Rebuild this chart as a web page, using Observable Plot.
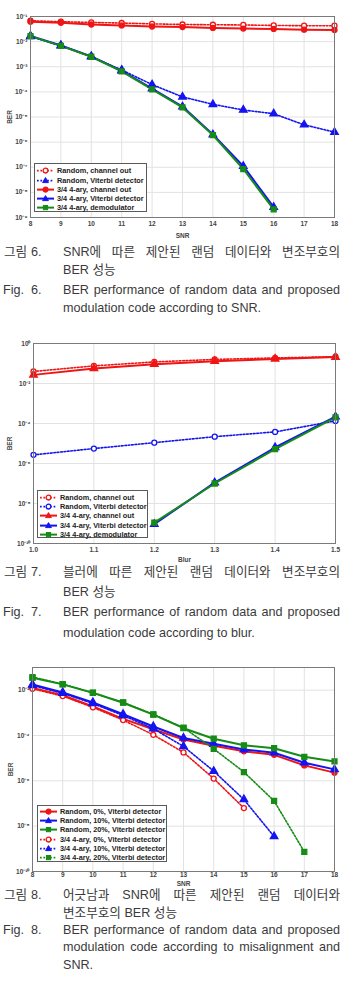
<!DOCTYPE html>
<html><head><meta charset="utf-8">
<script src="https://cdn.jsdelivr.net/npm/d3@7"></script>
<script src="https://cdn.jsdelivr.net/npm/@observablehq/plot@0.6"></script>
<style>
html,body{margin:0;padding:0;background:#fff}
body{width:343px;height:996px;position:relative;overflow:hidden;font-family:"Liberation Sans",Arial,sans-serif}
.chart{position:absolute;left:0}
.legend{position:absolute;border:1px solid #5a5a5a;background:#fff;box-sizing:border-box}
.lrow{position:absolute;left:0;height:9.2px;width:100%}
.lrow svg{position:absolute;left:1px;top:0}
.lrow span{position:absolute;left:22px;top:0;line-height:9.2px;font:bold 7.3px "Liberation Sans",Arial,sans-serif;color:#222;white-space:nowrap}
.cl{position:absolute;height:13px;line-height:13px;font-family:"Liberation Sans","Noto Sans CJK KR",sans-serif;font-size:12.6px;color:#3a3a3a;white-space:nowrap}
.jt{width:277px;left:63px;text-align:justify;text-align-last:justify}
.lt{left:63px}
</style>
</head><body>
<script>
// ---------- Fig. 6 data (BER vs SNR) ----------
const snr = [8, 9, 10, 11, 12, 13, 14, 15, 16, 17, 18];
const snrCode6 = [8, 9, 10, 11, 12, 13, 14, 15, 16];
const f6RandomChannel = [6.8e-2, 6.2e-2, 5.8e-2, 5.5e-2, 5.1e-2, 4.8e-2, 4.7e-2, 4.6e-2, 4.4e-2, 4.3e-2, 4.3e-2];
const f6RandomViterbi = [1.6e-2, 6.9e-3, 2.5e-3, 7.4e-4, 1.95e-4, 6.3e-5, 3.2e-5, 1.9e-5, 1.35e-5, 4.9e-6, 2.5e-6];
const f6CodeChannel = [6.2e-2, 5.6e-2, 4.8e-2, 4.4e-2, 4.0e-2, 3.8e-2, 3.5e-2, 3.3e-2, 3.2e-2, 3.0e-2, 2.9e-2];
const f6CodeViterbi = [1.7e-2, 7.0e-3, 2.6e-3, 6.9e-4, 1.35e-4, 2.6e-5, 2.0e-6, 1.1e-7, 2.6e-9];
const f6CodeDemod = [1.65e-2, 6.8e-3, 2.5e-3, 6.6e-4, 1.25e-4, 2.4e-5, 1.9e-6, 8.5e-8, 2.1e-9];

// ---------- Fig. 7 data (BER vs blur) ----------
const blur = [1.0, 1.1, 1.2, 1.3, 1.4, 1.5];
const blurCode = [1.2, 1.3, 1.4, 1.5];
const f7RandomChannel = [0.04, 0.076, 0.12, 0.16, 0.19, 0.22];
const f7RandomViterbi = [2.7e-6, 5.6e-6, 1.1e-5, 2.2e-5, 3.8e-5, 1.35e-4];
const f7CodeChannel = [0.027, 0.056, 0.093, 0.13, 0.17, 0.21];
const f7CodeViterbi = [9.3e-10, 1.1e-7, 6.3e-6, 2.2e-4];
const f7CodeDemod = [1.1e-9, 1.0e-7, 5.2e-6, 2.0e-4];

// ---------- Fig. 8 data (BER vs SNR, misalignment) ----------
const snr8Code0 = [8, 9, 10, 11, 12, 13, 14, 15];
const snr8Code10 = [8, 9, 10, 11, 12, 13, 14, 15, 16];
const snr8Code20 = [8, 9, 10, 11, 12, 13, 14, 15, 16, 17];
const f8Random0 = [1.26e-2, 6.0e-3, 1.9e-3, 5.4e-4, 1.9e-4, 6.6e-5, 3.5e-5, 2.0e-5, 1.4e-5, 4.8e-6, 2.3e-6];
const f8Random10 = [1.78e-2, 7.9e-3, 2.9e-3, 8.7e-4, 2.5e-4, 7.8e-5, 4.3e-5, 2.4e-5, 1.74e-5, 6.3e-6, 3.2e-6];
const f8Random20 = [3.5e-2, 1.8e-2, 7.6e-3, 2.8e-3, 8.3e-4, 2.1e-4, 7.2e-5, 3.7e-5, 2.75e-5, 1.15e-5, 7.2e-6];
const f8Code0 = [1.15e-2, 5.5e-3, 1.75e-3, 4.8e-4, 1.07e-4, 1.8e-5, 1.26e-6, 6.3e-8];
const f8Code10 = [1.6e-2, 7.3e-3, 2.6e-3, 7.6e-4, 2.0e-4, 3.3e-5, 2.7e-6, 1.5e-7, 3.5e-9];
const f8Code20 = [3.8e-2, 1.85e-2, 7.8e-3, 2.9e-3, 8.6e-4, 2.2e-4, 2.6e-5, 2.45e-6, 1.3e-7, 7.4e-10];

// ---------- tick values ----------
const snrTicks = [8, 9, 10, 11, 12, 13, 14, 15, 16, 17, 18];
const blurTicks = [1.0, 1.1, 1.2, 1.3, 1.4, 1.5];
const f6YTicks = [1e-1, 1e-2, 1e-3, 1e-4, 1e-5, 1e-6, 1e-7, 1e-8, 1e-9];
const f7YTicks = [1e0, 1e-2, 1e-4, 1e-6, 1e-8, 1e-10];
const f8YTicks = [1e-2, 1e-4, 1e-6, 1e-8, 1e-10];

const RED = "#f01414", BLUE = "#1414f0", GREEN = "#168c16";

function sup(d) {
  const e = Math.round(Math.log10(d));
  const m = {"-": "⁻", "0": "⁰", "1": "¹", "2": "²", "3": "³", "4": "⁴", "5": "⁵", "6": "⁶", "7": "⁷", "8": "⁸", "9": "⁹"};
  return "10" + String(e).split("").map(c => m[c]).join("");
}

function draw(cfg) {
  const marks = [
    Plot.gridX({ticks: cfg.xTicks, stroke: "#e2e2e2", strokeOpacity: 1}),
    Plot.gridY({ticks: cfg.yTicks, stroke: "#e2e2e2", strokeOpacity: 1})
  ];
  const rowsOf = s => s.x.map((x, i) => ({x, y: s.y[i]}));
  for (const s of cfg.series) {
    const o = {x: "x", y: "y", stroke: s.color, strokeWidth: s.dash ? 1.6 : 2};
    if (s.dash) o.strokeDasharray = "1.7,1.7";
    marks.push(Plot.line(rowsOf(s), o));
  }
  for (const s of cfg.series) {
    marks.push(Plot.dot(rowsOf(s), {
      x: "x", y: "y", symbol: s.symbol, r: s.symbol === "circle" ? 2.5 : 2.8,
      stroke: s.color, strokeWidth: 1.3, fill: s.open ? "white" : s.color
    }));
  }
  marks.push(Plot.frame({stroke: "#7a7a7a"}));
  marks.push(Plot.axisX({ticks: cfg.xTicks, tickFormat: cfg.xFmt, tickSize: 0, tickPadding: cfg.xPad,
    label: cfg.xLabel, labelAnchor: "center", labelArrow: "none", labelOffset: cfg.xLabelOffset,
    fontWeight: "bold", fill: "#444"}));
  marks.push(Plot.axisY({ticks: cfg.yTicks, tickFormat: sup, tickSize: 0, tickPadding: 3,
    label: "BER", labelAnchor: "center", labelArrow: "none", labelOffset: cfg.yLabelOffset,
    fontWeight: "bold", fill: "#444"}));
  const svg = Plot.plot({
    width: 343, height: cfg.height,
    marginTop: cfg.mt, marginBottom: cfg.mb, marginLeft: cfg.ml, marginRight: cfg.mr,
    x: {domain: cfg.xDomain},
    y: {type: "log", domain: cfg.yDomain},
    style: {fontFamily: "'Liberation Sans', Arial, sans-serif", fontSize: "6.5px", background: "transparent", overflow: "visible"},
    marks
  });
  svg.classList.add("chart");
  svg.style.top = cfg.top + "px";
  document.body.appendChild(svg);
}

function legend(left, top, width, height, padTop, items) {
  const div = document.createElement("div");
  div.className = "legend";
  Object.assign(div.style, {left: left + "px", top: top + "px", width: width + "px", height: height + "px"});
  items.forEach((it, i) => {
    const row = document.createElement("div");
    row.className = "lrow";
    row.style.top = (padTop + i * 9.2) + "px";
    const dash = it.dash ? ' stroke-dasharray="1.7,1.7"' : "";
    let mk;
    const c = it.color, f = it.open ? "white" : c;
    if (it.symbol === "circle") mk = `<circle cx="9.5" cy="4.6" r="2.4" stroke="${c}" stroke-width="1.3" fill="${f}"/>`;
    else if (it.symbol === "triangle") mk = `<path d="M9.5,1.6L12.4,6.6L6.6,6.6Z" stroke="${c}" stroke-width="1" fill="${f}"/>`;
    else mk = `<rect x="7.4" y="2.5" width="4.2" height="4.2" stroke="${c}" stroke-width="1" fill="${f}"/>`;
    row.innerHTML = `<svg width="19" height="9.2"><line x1="1" x2="18" y1="4.6" y2="4.6" stroke="${c}" stroke-width="${it.dash ? 1.6 : 2}"${dash}/>${mk}</svg><span>${it.label}</span>`;
    div.appendChild(row);
  });
  document.body.appendChild(div);
}

function line(text, cls, left, center) {
  const d = document.createElement("div");
  d.className = "cl " + (cls || "");
  if (left != null) d.style.left = left + "px";
  d.style.top = (center - 6.5) + "px";
  d.textContent = text;
  document.body.appendChild(d);
}

// ---------- Fig 6 ----------
const s6 = [
  {x: snr, y: f6RandomChannel, color: RED, dash: true, symbol: "circle", open: true, label: "Random, channel out"},
  {x: snr, y: f6RandomViterbi, color: BLUE, dash: true, symbol: "triangle", label: "Random, Viterbi detector"},
  {x: snr, y: f6CodeChannel, color: RED, symbol: "circle", label: "3/4 4-ary, channel out"},
  {x: snrCode6, y: f6CodeViterbi, color: BLUE, symbol: "triangle", label: "3/4 4-ary, Viterbi detector"},
  {x: snrCode6, y: f6CodeDemod, color: GREEN, symbol: "square", label: "3/4 4-ary, demodulator"}
];
draw({top: 0, height: 240, mt: 16, mb: 23, ml: 30, mr: 9, xDomain: [8, 18], xTicks: snrTicks, xFmt: d => String(d),
  xPad: 3.5, xLabel: "SNR", xLabelOffset: 20.5, yLabelOffset: 23, yDomain: [1e-9, 1e-1], yTicks: f6YTicks, series: s6});
legend(34, 163, 113, 49, 2.4, s6);

// ---------- Fig 7 ----------
const s7 = [
  {x: blur, y: f7RandomChannel, color: RED, dash: true, symbol: "circle", open: true, label: "Random, channel out"},
  {x: blur, y: f7RandomViterbi, color: BLUE, dash: true, symbol: "circle", open: true, label: "Random, Viterbi detector"},
  {x: blur, y: f7CodeChannel, color: RED, symbol: "triangle", label: "3/4 4-ary, channel out"},
  {x: blurCode, y: f7CodeViterbi, color: BLUE, symbol: "triangle", label: "3/4 4-ary, Viterbi detector"},
  {x: blurCode, y: f7CodeDemod, color: GREEN, symbol: "square", label: "3/4 4-ary, demodulator"}
];
draw({top: 330, height: 235, mt: 13, mb: 22, ml: 33, mr: 8, xDomain: [1.0, 1.5], xTicks: blurTicks, xFmt: d3.format(".1f"),
  xPad: 3.5, xLabel: "Blur", xLabelOffset: 18.5, yLabelOffset: 26, yDomain: [1e-10, 1], yTicks: f7YTicks, series: s7});
legend(37, 490, 111, 48, 2, s7);

// ---------- Fig 8 ----------
const s8 = [
  {x: snr, y: f8Random0, color: RED, symbol: "circle", label: "Random, 0%, Viterbi detector"},
  {x: snr, y: f8Random10, color: BLUE, symbol: "triangle", label: "Random, 10%, Viterbi detector"},
  {x: snr, y: f8Random20, color: GREEN, symbol: "square", label: "Random, 20%, Viterbi detector"},
  {x: snr8Code0, y: f8Code0, color: RED, dash: true, symbol: "circle", open: true, label: "3/4 4-ary, 0%, Viterbi detector"},
  {x: snr8Code10, y: f8Code10, color: BLUE, dash: true, symbol: "triangle", label: "3/4 4-ary, 10%, Viterbi detector"},
  {x: snr8Code20, y: f8Code20, color: GREEN, dash: true, symbol: "square", label: "3/4 4-ary, 20%, Viterbi detector"}
];
draw({top: 654, height: 236, mt: 13, mb: 19, ml: 32, mr: 9, xDomain: [8, 18], xTicks: snrTicks, xFmt: d => String(d),
  xPad: 0.5, xLabel: "SNR", xLabelOffset: 14.5, yLabelOffset: 24, yDomain: [1e-10, 1e-1], yTicks: f8YTicks, series: s8});
legend(37, 804.7, 130, 57.6, 1.4, s8);

// ---------- captions ----------
line("그림", "", 4, 252); line("6.", "", 31, 252);
line("SNR에 따른 제안된 랜덤 데이터와 변조부호의", "jt", null, 252);
line("BER 성능", "lt", null, 270);
line("Fig.", "", 3, 290); line("6.", "", 31, 290);
line("BER performance of random data and proposed", "jt", null, 290);
line("modulation code according to SNR.", "lt", null, 308);

line("그림", "", 4, 572); line("7.", "", 31, 572);
line("블러에 따른 제안된 랜덤 데이터와 변조부호의", "jt", null, 572);
line("BER 성능", "lt", null, 592);
line("Fig.", "", 3, 612); line("7.", "", 31, 612);
line("BER performance of random data and proposed", "jt", null, 612);
line("modulation code according to blur.", "lt", null, 633);

line("그림", "", 4, 895.5); line("8.", "", 31, 895.5);
line("어긋남과 SNR에 따른 제안된 랜덤 데이터와", "jt", null, 895.5);
line("변조부호의 BER 성능", "lt", null, 913);
line("Fig.", "", 3, 930.5); line("8.", "", 31, 930.5);
line("BER performance of random data and proposed", "jt", null, 930.5);
line("modulation code according to misalignment and", "jt", null, 947.5);
line("SNR.", "lt", null, 965);
</script>
</body></html>
